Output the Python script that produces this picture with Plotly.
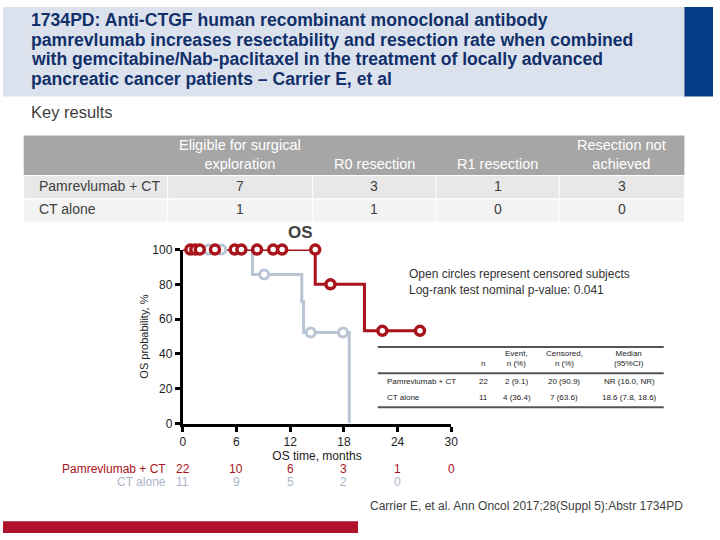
import plotly.graph_objects as go

W, H = 720, 540

# --- slide text ---
title_lines = [
    "1734PD: Anti-CTGF human recombinant monoclonal antibody",
    "pamrevlumab increases resectability and resection rate when combined",
    "with gemcitabine/Nab-paclitaxel in the treatment of locally advanced",
    "pancreatic cancer patients \u2013 Carrier E, et al",
]
subtitle = "Key results"
footnote = "Carrier E, et al. Ann Oncol 2017;28(Suppl 5):Abstr 1734PD"

# --- key results table ---
res_cols = ["Eligible for surgical<br>exploration", "R0 resection", "R1 resection",
            "Resection not<br>achieved"]
res_rows = ["Pamrevlumab + CT", "CT alone"]
res_vals = [[7, 3, 1, 3], [1, 1, 0, 0]]

# --- KM curves (months, OS %) ---
pam_t = [0, 14.8, 20.3, 26.5]
pam_s = [100, 80, 53.3, 53.3]
pam_cens_t = [0.85, 1.4, 1.9, 3.6, 5.8, 6.55, 8.3, 10.1, 11.1, 14.8, 16.5, 22.3, 26.5]
pam_cens_s = [100, 100, 100, 100, 100, 100, 100, 100, 100, 100, 80, 53.3, 53.3]

ct_t = [0, 7.8, 13.3, 13.5, 18.6]
ct_s = [100, 85.7, 70, 52.4, 0]
ct_cens_t = [2.9, 4.3, 9.1, 14.3, 17.9]
ct_cens_s = [100, 100, 85.7, 52.4, 52.4]

risk_t = [0, 6, 12, 18, 24, 30]
pam_risk = [22, 10, 6, 3, 1, 0]
ct_risk = [11, 9, 5, 2, 0]

# --- summary table ---
sum_cols = ["n", "Event,<br>n (%)", "Censored,<br>n (%)", "Median<br>(95%CI)"]
sum_rows = ["Pamrevlumab + CT", "CT alone"]
sum_vals = [["22", "2 (9.1)", "20 (90.9)", "NR (16.0, NR)"],
            ["11", "4 (36.4)", "7 (63.6)", "18.6 (7.8, 18.6)"]]

RED = "#a8131c"
GREY = "#b9c4d5"
NAVY = "#12306a"
TXT = "#404040"
FONT = "Liberation Sans, Arial, sans-serif"


def px(x):
    return x / W


def py(y):
    return 1 - y / H


fig = go.Figure()

fig.add_trace(go.Scatter(x=ct_t, y=ct_s, mode="lines", line=dict(color=GREY, width=3, shape="hv"),
                         showlegend=False, hoverinfo="skip", cliponaxis=False))
fig.add_trace(go.Scatter(x=pam_t, y=pam_s, mode="lines", line=dict(color=RED, width=3, shape="hv"),
                         showlegend=False, hoverinfo="skip", cliponaxis=False))
fig.add_trace(go.Scatter(x=ct_cens_t, y=ct_cens_s, mode="markers",
                         marker=dict(symbol="circle", size=9, color="white", line=dict(color=GREY, width=3)),
                         showlegend=False, cliponaxis=False))
fig.add_trace(go.Scatter(x=pam_cens_t, y=pam_cens_s, mode="markers",
                         marker=dict(symbol="circle", size=9, color="white", line=dict(color=RED, width=3.5)),
                         showlegend=False, cliponaxis=False))

shapes = [
    dict(type="rect", xref="paper", yref="paper", x0=0, x1=px(691), y0=py(92), y1=1,
         fillcolor="#dbe2ee", line_width=0, layer="below"),
    dict(type="rect", xref="paper", yref="paper", x0=px(691), x1=1, y0=py(92), y1=1,
         fillcolor="#053c85", line_width=0, layer="below"),
    dict(type="rect", xref="paper", yref="paper", x0=0, x1=px(360), y0=0, y1=py(528),
         fillcolor="#b0122c", line_width=0, layer="below"),
]
ann = []
for i, line in enumerate(title_lines):
    ann.append(dict(text=f"<b>{line}</b>", x=px(26), y=py(13.5 + i * 20), xanchor="left", yanchor="middle",
                    font=dict(size=17.6, color=NAVY)))
ann.append(dict(text=subtitle, x=px(26), y=py(108), xanchor="left", yanchor="middle",
                font=dict(size=16.5, color=TXT)))

# key results table
col_edges = [21, 167, 314, 439, 564, 691]
row_edges = [132, 173, 197, 221]
shapes.append(dict(type="rect", xref="paper", yref="paper", x0=px(col_edges[0]), x1=px(col_edges[-1]),
                   y0=py(row_edges[1]), y1=py(row_edges[0]), fillcolor="#a6a6a6", line_width=0, layer="below"))
for r, fill in zip(range(2), ["#e8e8e8", "#f3f3f3"]):
    shapes.append(dict(type="rect", xref="paper", yref="paper", x0=px(col_edges[0]), x1=px(col_edges[-1]),
                       y0=py(row_edges[r + 2]), y1=py(row_edges[r + 1]), fillcolor=fill,
                       line=dict(color="white", width=1), layer="below"))
for xe in col_edges[1:-1]:
    shapes.append(dict(type="line", xref="paper", yref="paper", x0=px(xe), x1=px(xe),
                       y0=py(row_edges[-1]), y1=py(row_edges[1]), line=dict(color="white", width=1)))
for j, c in enumerate(res_cols):
    cx = (col_edges[j + 1] + col_edges[j + 2]) / 2
    ann.append(dict(text=c, x=px(cx), y=py(171), xanchor="center", yanchor="bottom",
                    font=dict(size=14.5, color="white")))
for r, name in enumerate(res_rows):
    cy = (row_edges[r + 1] + row_edges[r + 2]) / 2 - 1.5
    ann.append(dict(text=name, x=px(34), y=py(cy), xanchor="left", yanchor="middle",
                    font=dict(size=14, color=TXT)))
    for j, v in enumerate(res_vals[r]):
        cx = (col_edges[j + 1] + col_edges[j + 2]) / 2
        ann.append(dict(text=str(v), x=px(cx), y=py(cy), xanchor="center", yanchor="middle",
                        font=dict(size=14, color=TXT)))

# KM panel text
ann.append(dict(text="<b>OS</b>", x=px(302), y=py(231), xanchor="center", yanchor="middle",
                font=dict(size=17, color=TXT)))
ann.append(dict(text="Open circles represent censored subjects<br>Log-rank test nominal p-value: 0.041",
                x=px(410), y=py(282), xanchor="left", yanchor="middle", align="left",
                font=dict(size=12, color="#333333")))
for rows, lab, col, yy in [(pam_risk, "Pamrevlumab + CT", RED, 474), (ct_risk, "CT alone", "#a9b4c6", 488)]:
    ann.append(dict(text=lab, x=px(167), y=py(yy), xanchor="right", yanchor="middle",
                    font=dict(size=12, color=col)))
    for t, n in zip(risk_t, rows):
        ann.append(dict(text=str(n), xref="x", x=t, y=py(yy), xanchor="center", yanchor="middle",
                        font=dict(size=12, color=col)))

# summary table
for yl in [349, 376, 411]:
    shapes.append(dict(type="line", xref="paper", yref="paper", x0=px(380), x1=px(670), y0=py(yl), y1=py(yl),
                       line=dict(color="#555555", width=2)))
sum_x = [487, 521, 569, 635]
for x, c in zip(sum_x, sum_cols):
    ann.append(dict(text=c, x=px(x), y=py(373), xanchor="center", yanchor="bottom",
                    font=dict(size=8, color="#222222")))
for r, name in enumerate(sum_rows):
    yy = 384 + r * 17
    ann.append(dict(text=name, x=px(387), y=py(yy), xanchor="left", yanchor="middle",
                    font=dict(size=8, color="#222222")))
    for x, v in zip(sum_x, sum_vals[r]):
        ann.append(dict(text=v, x=px(x), y=py(yy), xanchor="center", yanchor="middle",
                        font=dict(size=8, color="#222222")))

ann.append(dict(text=footnote, x=px(692), y=py(512), xanchor="right", yanchor="middle",
                font=dict(size=12, color=TXT)))

for a in ann:
    a.setdefault("xref", "paper")
    a["yref"] = "paper"
    a["showarrow"] = False

fig.update_layout(
    width=W, height=H, margin=dict(l=0, r=0, t=0, b=0),
    paper_bgcolor="white", plot_bgcolor="white",
    font=dict(family=FONT, color=TXT),
    shapes=shapes, annotations=ann,
    xaxis=dict(domain=[px(182.3), px(454.6)], range=[0, 30], tickvals=risk_t, showgrid=False, zeroline=False,
               showline=True, linecolor="black", linewidth=3, ticks="outside", ticklen=5, tickwidth=3,
               tickcolor="black", tickfont=dict(size=12, color="#222222"),
               title=dict(text="OS time, months", font=dict(size=12, color="#222222"), standoff=3)),
    yaxis=dict(domain=[py(427.7), py(249)], range=[0, 100], tickvals=[0, 20, 40, 60, 80, 100], showgrid=False,
               zeroline=False, showline=True, linecolor="black", linewidth=3, ticks="outside", ticklen=5,
               tickwidth=3, tickcolor="black", tickfont=dict(size=12, color="#222222"),
               title=dict(text="OS probability, %", font=dict(size=11, color="#222222"), standoff=2)),
)

fig.write_html("out.html", config={"displayModeBar": False},
               post_script="document.body.style.margin = '0'; document.documentElement.style.overflow = 'hidden';")
